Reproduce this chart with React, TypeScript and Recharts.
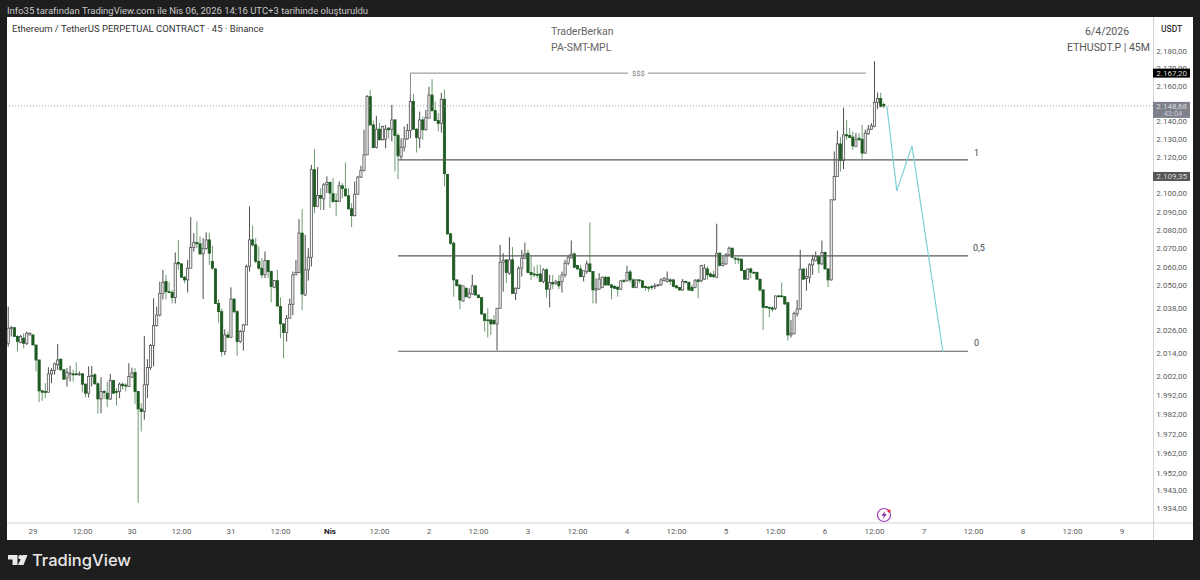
import { ComposedChart, Bar, Line, XAxis, YAxis, ReferenceLine } from 'recharts';

// ETHUSDT.P 45m candles, first one sits 8 slots before the "29" tick
const opens = [
  2019.2,2027.2,2027.5,2022.8,2019.6,2021.9,2019.2,2023.6,2023.6,2018.3,
  2010.4,1994.2,1993.9,1993.5,2003.1,2004.9,2007.9,2010.8,2005.2,2000.9,
  2003,2003.1,2003.1,2002.6,2003.1,1997.7,1993,2001.7,2002.6,1997.9,
  1990,1993.9,1993,1989.9,1999.6,1993.9,1993.9,1997.7,1997.2,1996.5,
  2001.4,2003.8,1993.9,1984.8,1983.5,1997.4,2006.4,2018,2028.6,2034.2,
  2045.8,2052.1,2046.7,2046.2,2043.5,2062.4,2061.6,2054.4,2053,2059.3,
  2070.5,2073.2,2072.5,2067,2070,2074.6,2062.9,2058.9,2040.4,2036,
  2014.8,2023.6,2022.4,2042.7,2036,2020.1,2025.4,2028.9,2060.2,2074.6,
  2071.9,2062.9,2059.3,2055.7,2063.4,2057.5,2049,2052.6,2038.7,2029.5,
  2024.9,2032.5,2039.9,2055.7,2057,2078.3,2044.9,2058.4,2065.2,2113.1,
  2092.9,2098.9,2097,2104.8,2106.1,2099.8,2096,2095.6,2104.2,2102.4,
  2098.7,2091.6,2087.8,2099.6,2109,2112.7,2121.3,2153.9,2138,2125.4,
  2135.6,2129.7,2130,2136.2,2135.6,2140.8,2132.1,2120.4,2125.6,2130.2,
  2134.9,2151.1,2135.6,2130.6,2140.8,2135.3,2141.8,2154.8,2146,2140.4,
  2138.9,2152.4,2110.5,2077.9,2072.8,2053,2050.3,2041.7,2048.5,2043.6,
  2045.4,2049.8,2044.9,2043.5,2034.8,2031.6,2031.6,2031.3,2029.5,2037.8,
  2062.5,2063.8,2056.6,2063.8,2045.8,2048.5,2059.3,2064.7,2067.4,2057,
  2056.2,2055.9,2056.2,2052.1,2058.4,2048,2051.6,2051.2,2052.1,2052.1,
  2055.7,2062,2064.7,2067,2060.7,2058.9,2054.8,2057.5,2061.6,2057.5,
  2047.6,2048,2048.9,2054.4,2054.4,2050.3,2049.4,2049,2048,2052.6,
  2052.5,2057.3,2053,2049,2053,2052.5,2049.4,2049,2049.4,2049.4,
  2050,2050.3,2052.6,2052.1,2053,2053,2049.8,2048.9,2047.6,2052.1,
  2051.6,2049,2049,2053,2052.5,2053.4,2058.9,2056.2,2055.7,2054.4,
  2067.4,2060.7,2061.6,2066.5,2070.1,2064.7,2064.2,2064.2,2058,2053.4,
  2058.9,2057.1,2057,2053.4,2047.6,2038.7,2038.3,2038,2037.8,2044.4,
  2044.4,2044,2040.8,2023.6,2024.2,2034.8,2037.4,2058.8,2053.7,2054.4,
  2061.1,2063.4,2065.6,2061.6,2067.8,2058.9,2053,2096.5,2109.4,2127.4,
  2118.2,2132.5,2132.1,2131.2,2126,2130.6,2130,2122.3,2133,2135.6,
  2137.1,2150.7,2152.9,2149.5,
];
const closes = [
  2027.2,2027.5,2022.8,2020.1,2022.8,2019.2,2024.5,2024.5,2018.3,2010.4,
  1994.2,1993.5,1993.4,2003.1,2004.9,2008.4,2010.4,2005.2,2000.3,2003.8,
  2003.5,2002.6,2002.6,2003.1,1997.7,1993,2001.7,2002.3,1997.9,1990,
  1993.9,1993.4,1990,1999.6,1993,1993.4,1997.7,1996.9,1996.7,2001.7,
  2003.5,1993.9,1984.8,1983.5,1997.4,2006.4,2018,2028.6,2034.2,2045.8,
  2051.7,2046.7,2046.2,2043.5,2062,2061.6,2054.4,2053,2059.3,2070.5,
  2073.2,2072.5,2067,2070,2074.6,2067.4,2059.3,2040.4,2036,2014.8,
  2023.6,2022.4,2042.7,2036,2020.1,2025.4,2028.9,2060.2,2074.6,2071.9,
  2062.9,2059.3,2055.7,2063.4,2057.5,2049.4,2052.6,2039,2029.5,2024.9,
  2032.5,2039.9,2055.7,2057,2078.3,2045.4,2058.4,2065.2,2113.1,2092.9,
  2098.9,2097.4,2104.8,2106.1,2100.2,2095.6,2095.6,2104.2,2102.8,2098.7,
  2091.6,2087.8,2099.6,2109,2112.7,2121.3,2153.9,2138,2125.4,2135.6,
  2129.7,2137.1,2135.6,2135.3,2140.8,2132.1,2120.8,2125.6,2130.2,2134.9,
  2151.1,2135.6,2131,2140.8,2135.3,2142.1,2154.8,2146,2140.4,2138.9,
  2152.4,2110.9,2077.9,2072.8,2053,2049.9,2042.2,2049.8,2044,2045.8,
  2049.8,2044.9,2043.5,2034.8,2031.3,2031.3,2029.5,2029.5,2037.8,2062.5,
  2063.4,2057,2063.8,2045.8,2048.5,2059.3,2064.7,2067,2057,2055.9,
  2055.7,2055.5,2052.1,2058.4,2048,2051.6,2050.8,2051.9,2049.8,2055.7,
  2062,2065.2,2066.9,2059.8,2058.9,2054.8,2057.9,2061.6,2057.5,2047.6,
  2048.5,2053.4,2054.4,2050.3,2050.3,2048.9,2048.5,2048,2052.5,2052.1,
  2057,2053,2049,2053,2052.6,2049,2048.9,2048.7,2049,2049.8,
  2050.3,2053,2053.9,2053.4,2052.3,2049.4,2048.7,2047.6,2052.1,2051.6,
  2047.6,2047.2,2052.5,2052.1,2060.7,2059.3,2055.7,2054.8,2054.8,2067.4,
  2060.7,2062,2066.5,2070.1,2065.2,2064.2,2063.8,2058,2053.4,2058.8,
  2057.1,2056.6,2053.4,2047.6,2038.3,2038.1,2037.8,2037.3,2044.4,2044,
  2044,2040.1,2023.6,2024.5,2035.1,2037.4,2058.8,2053.4,2054.8,2061.1,
  2063.8,2065.6,2061.6,2067.8,2058.9,2053,2096.5,2109.4,2127.4,2118.2,
  2132.5,2131.9,2131,2126.3,2129.7,2129.7,2122.3,2133.4,2135.6,2137.5,
  2150.7,2152.9,2148.3,2148.68,
];
const highs = [
  2038.7,2028.4,2027.5,2023.6,2023.6,2024.5,2025.4,2025,2024.1,2018.3,
  2010.4,1994.8,1998.2,2006.6,2006.1,2009,2018.9,2011.3,2005.6,2006.1,
  2007.3,2005.2,2009.2,2004.4,2003.5,1998.2,2007,2007.3,2003.5,1998.6,
  2001.4,1994.8,1999.1,2003.1,2000,1995.6,1998.6,1998.6,1998.2,2008.7,
  2006.4,2006.1,1993.9,1987.7,2023.1,2010.8,2018.9,2043.1,2038.7,2052.1,
  2058.4,2055.7,2051.7,2047.6,2067.8,2074.7,2062,2055.2,2063.8,2087,
  2078.3,2084.7,2076.5,2075.6,2078.7,2078.3,2071.4,2059.3,2042.6,2037.8,
  2026.6,2025.4,2049,2043.1,2036.9,2026.3,2029.5,2061.1,2092.9,2082.5,
  2075.6,2071,2064.7,2068.3,2063.8,2057.9,2053,2058.4,2043.6,2029.5,
  2034.2,2043,2057.5,2063.8,2085.9,2091.4,2077.4,2070.1,2115.8,2124.5,
  2114.5,2102.9,2105.7,2109.4,2106.6,2108.5,2100.2,2106.6,2105.7,2117.1,
  2102.9,2094.7,2106.6,2109.7,2115.3,2135.3,2154.8,2157.6,2140.5,2143.1,
  2139.3,2137.5,2138,2136.7,2149.2,2141.2,2133.4,2130.6,2137.1,2138.6,
  2155.4,2155.4,2136.2,2145.5,2142.7,2146.4,2159.5,2163.8,2151.1,2144.6,
  2156.1,2158,2110.5,2078.3,2073.7,2053,2050.3,2049.8,2049,2048.5,
  2055.7,2050.3,2044.9,2043.5,2034.8,2037.8,2032,2034.2,2037.8,2071.9,
  2067.4,2064.2,2076.1,2070.7,2049,2060.2,2069.2,2073.2,2069.2,2065.6,
  2060.2,2061.1,2061.1,2059.3,2059.3,2055.7,2055.7,2053,2055.7,2057.5,
  2063.8,2066.5,2074.3,2067.8,2061.1,2061.1,2058,2063.4,2084.1,2057.5,
  2053.9,2056.6,2054.8,2055.2,2054.8,2050.8,2050.3,2049.8,2053,2053.4,
  2060.6,2058.4,2053.9,2053.4,2053.4,2053,2049.8,2049.8,2050.3,2051.2,
  2050.8,2053.9,2054.4,2057.5,2053.9,2053.4,2050.3,2049,2053.5,2052.5,
  2052.1,2050.3,2053.5,2053.4,2061.1,2061.5,2060.2,2057,2058,2083.4,
  2067.8,2065.6,2067.4,2071,2070.5,2065.2,2065.2,2064.2,2058.4,2059.3,
  2059.7,2057.5,2057.5,2053.5,2048,2039,2038.7,2038.7,2044.5,2044.9,
  2051.6,2044.4,2040.8,2031.6,2036,2042.2,2069.2,2059.3,2059.3,2062,
  2066.5,2068.3,2066,2074.3,2068.3,2059.3,2096.5,2123.2,2134.9,2131.2,
  2147.7,2140.8,2136.2,2134.3,2133.4,2133.4,2138,2135.3,2138,2139,
  2174,2156.3,2156.1,2150.5,
];
const lows = [
  2017.5,2022.8,2022.8,2014.8,2019.2,2016.6,2018.3,2023.6,2018.3,2004.4,
  1988.3,1989,1990.4,1993.4,1998.2,2002.6,2005.2,2004.9,2000,1996.5,
  1999.1,1999.1,2002.6,2002.1,1993.4,1990.9,1990.7,1996.5,1997.4,1982.3,
  1982.6,1990,1985.7,1989.5,1992.5,1986.6,1990.4,1994.8,1993.9,1996.5,
  2000.9,1987.4,1936.6,1973.1,1979.2,1990.4,2005.2,2007,2028,2033.4,
  2042.6,2042.6,2045.8,2040.4,2040.4,2058.4,2054.3,2051.2,2046.3,2059.3,
  2068.3,2070.1,2066.5,2042.7,2069.2,2061.1,2058.4,2040.4,2030.2,2012.2,
  2013,2021.9,2021.9,2035.1,2012.7,2019.3,2015.4,2028.9,2057.5,2071,
  2062,2058.4,2053.9,2053.9,2053.9,2041,2048.5,2038.7,2021.9,2011.3,
  2020.1,2032.5,2034.2,2055.7,2056.6,2036.9,2044.3,2052.6,2060.2,2089.2,
  2092.5,2090.9,2090.9,2100.2,2091.9,2094.7,2087.4,2095.6,2097.4,2098.3,
  2091,2081.6,2087.4,2099.3,2108.5,2112.1,2121.3,2137.7,2125,2124.8,
  2129.3,2129.3,2125,2130.6,2128.8,2112.1,2107.9,2118.6,2123.2,2129.7,
  2130.6,2135.3,2122.6,2125,2129.7,2134.9,2141.8,2145.5,2140.3,2134.4,
  2133.8,2103.9,2077.4,2071.9,2044,2049.4,2037.3,2041.3,2043.6,2043.1,
  2044.9,2044.5,2043.1,2034.2,2025.4,2022.2,2023.6,2029,2015.4,2037.8,
  2046.7,2051.2,2055.7,2045.8,2042.2,2048,2054.8,2064.2,2056.6,2053,
  2054.4,2053.9,2052.1,2051.2,2043.6,2038.3,2048,2050.3,2048,2046.2,
  2054.4,2061.1,2064.7,2059.3,2058.4,2054.4,2052.1,2056.2,2057,2040.4,
  2040.4,2047.6,2048.5,2049.8,2049.8,2042.6,2048,2044,2047.6,2051.6,
  2052.1,2051.6,2048.5,2048.5,2051.2,2048.5,2047.2,2046.7,2047.6,2048,
  2049.4,2049.8,2052.1,2051.6,2050.3,2049,2048.5,2047.2,2047.2,2051.2,
  2047.2,2047.1,2048.5,2043.1,2051.7,2053,2053,2054.4,2053.9,2053.9,
  2060.2,2060.2,2061.1,2066,2064.7,2061.6,2061.6,2057.9,2053,2053,
  2053.9,2056.2,2053,2046.7,2026.3,2037.8,2033,2036,2036.9,2043.6,
  2043.6,2039.5,2020.6,2022.2,2024,2033.4,2036.9,2053,2047.2,2051.2,
  2055.7,2062.9,2056.6,2061.1,2058.4,2049.2,2052.6,2096.1,2109.4,2112.1,
  2113.4,2129.7,2130.6,2124.1,2126,2129.3,2119,2121.9,2132.5,2135.3,
  2136.7,2146.8,2147.9,2147.3,
];

const priceTicks = [2180,2170,2160,2150,2140,2130,2120,2110,2100,2090,2080,2070,2060,2050,2038,2026,2014,2002,1992,1982,1972,1962,1952,1943,1934];
const timeTicks = [0,16,32,48,64,80,96,112,128,144,160,176,192,208,224,240,256,272,288,304,320,336,352];
const timeLabels = ['29','12:00','30','12:00','31','12:00','Nis','12:00','2','12:00','3','12:00','4','12:00','5','12:00','6','12:00','7','12:00','8','12:00','9'];

const LAST_PRICE = 2148.68;
const HIGH_TAG = 2167.2;
const LOW_TAG = 2109.35;
const LEVEL_ONE = 2118.5;
const LEVEL_HALF = 2066;
const LEVEL_ZERO = 2015;

// hand drawn path on the right
const pathSlots = [276, 279.2, 284.1, 294.1];
const pathPrices = [2148.4, 2101.4, 2126.3, 2014.6];

const rows = opens.map((o, idx) => ({ i: idx - 8, o, c: closes[idx], h: highs[idx], l: lows[idx], range: [lows[idx], highs[idx]] }));
const pathRows = pathSlots.map((i, idx) => ({ i, path: pathPrices[idx] }));

const money = (v: number) => {
  const [a, b] = v.toFixed(2).split('.');
  return a.slice(0, 1) + '.' + a.slice(1) + ',' + b;
};

function Candle(props: any) {
  const { x, y, width, height, payload } = props;
  const { o, c, h, l } = payload;
  const cx = x + width / 2;
  const span = Math.log(h / l) || 1;
  const py = (v: number) => y + (height * Math.log(h / v)) / span;
  const up = c >= o;
  const top = py(Math.max(o, c));
  const bot = py(Math.min(o, c));
  return (
    <g>
      <line x1={cx} x2={cx} y1={y} y2={y + height} stroke={up ? '#4d4d4d' : '#6f9c74'} strokeWidth={1} />
      <rect x={cx - 1.1} y={top} width={2.2} height={Math.max(bot - top, 0.8)} fill={up ? '#f4f4f4' : '#1d5a21'} stroke={up ? '#555' : '#1d5a21'} strokeWidth={0.8} />
    </g>
  );
}

function PriceTick(props: any) {
  const { y, payload } = props;
  const v = payload.value;
  const right = 1187;
  let box = null;
  let extra = null;
  let col = '#5c5c5c';
  if (v === HIGH_TAG) {
    box = <rect x={1153} y={y - 4.5} width={37} height={9} fill="#000" />;
    col = '#d8d8d8';
  }
  if (v === LOW_TAG) {
    box = <rect x={1153} y={y - 4.5} width={37} height={9} fill="#555" />;
    col = '#d8d8d8';
  }
  if (v === LAST_PRICE) {
    box = <rect x={1153} y={y - 4} width={37} height={16} fill="#7e808c" />;
    col = '#dcdcdc';
    extra = <text x={1173} y={y + 10} textAnchor="middle" fontSize={7.5} fontFamily="Roboto" fill="#c9cad0">43:04</text>;
  }
  return (
    <g>
      {box}
      <text x={right} y={y + 3} textAnchor="end" fontSize={8} fontFamily="Roboto" fill={col}>{money(v)}</text>
      {extra}
    </g>
  );
}

function TimeTick(props: any) {
  const { x, y, payload } = props;
  const label = timeLabels[timeTicks.indexOf(payload.value)];
  return <text x={x} y={y + 3} textAnchor="middle" fontSize={8} fontFamily="Roboto" fontWeight={label === 'Nis' ? 700 : 400} fill={label === 'Nis' ? '#222' : '#5c5c5c'}>{label}</text>;
}

const txt = (s: string, left: number, top: number, size: number, color: string, extra: any = {}) => (
  <div style={{ position: 'absolute', left, top, fontSize: size, color, lineHeight: 1, whiteSpace: 'nowrap', fontFamily: 'Roboto', ...extra }}>{s}</div>
);

export default function App() {
  return (
    <div style={{ position: 'fixed', left: 0, top: 0, width: 1200, height: 580, background: '#1e1e1e', overflow: 'hidden' }}>
      <div style={{ position: 'absolute', left: 7, top: 17, width: 1186, height: 523, background: '#fff' }} />
      <div style={{ position: 'absolute', left: 7, top: 522, width: 1186, height: 2, background: '#e9e9e9' }} />
      <div style={{ position: 'absolute', left: 1153, top: 17, width: 1, height: 523, background: '#d4d4d4' }} />
      <div style={{ position: 'absolute', left: 0, top: 0 }}>
        <ComposedChart width={1200} height={580} data={rows} margin={{ top: 18, right: 0, bottom: 40, left: 7 }}>
          <XAxis dataKey="i" type="number" domain={[-8.4, 362]} allowDataOverflow ticks={timeTicks} interval={0} axisLine={false} tickLine={false} height={17} tick={<TimeTick />} />
          <YAxis orientation="right" scale="log" domain={[1926.4, 2198.7]} allowDataOverflow width={47} ticks={[...priceTicks, LOW_TAG, LAST_PRICE, HIGH_TAG]} interval={0} axisLine={false} tickLine={false} tick={<PriceTick />} />
          <ReferenceLine y={LAST_PRICE} stroke="#a8a8a8" strokeDasharray="1 2" />
          <Bar dataKey="range" barSize={3} shape={<Candle />} isAnimationActive={false} />
          <ReferenceLine segment={[{ x: 122, y: HIGH_TAG }, { x: 192.3, y: HIGH_TAG }]} stroke="#8a8a8a" />
          <ReferenceLine segment={[{ x: 198.8, y: HIGH_TAG }, { x: 269.2, y: HIGH_TAG }]} stroke="#8a8a8a" />
          <ReferenceLine segment={[{ x: 122, y: HIGH_TAG }, { x: 122, y: 2152 }]} stroke="#8a8a8a" />
          <ReferenceLine segment={[{ x: 118, y: LEVEL_ONE }, { x: 302.2, y: LEVEL_ONE }]} stroke="#5a5a5a" strokeWidth={1.2} />
          <ReferenceLine segment={[{ x: 118, y: LEVEL_HALF }, { x: 302.2, y: LEVEL_HALF }]} stroke="#5a5a5a" strokeWidth={1.2} />
          <ReferenceLine segment={[{ x: 118, y: LEVEL_ZERO }, { x: 302.2, y: LEVEL_ZERO }]} stroke="#5a5a5a" strokeWidth={1.2} />
          <Line data={pathRows} dataKey="path" stroke="#7dd0d6" strokeWidth={1.2} dot={false} isAnimationActive={false} type="linear" />
        </ComposedChart>
      </div>

      {txt('Info35 tarafından TradingView.com ile Nis 06, 2026 14:16 UTC+3 tarihinde oluşturuldu', 7, 6, 9.5, '#c8c8c8')}
      {txt('Ethereum / TetherUS PERPETUAL CONTRACT · 45 · Binance', 12, 24, 9.5, '#333')}
      {txt('TraderBerkan', 551, 27, 10.5, '#666')}
      {txt('PA-SMT-MPL', 551, 43, 10.5, '#666')}
      {txt('6/4/2026', 1085, 27, 10.5, '#555')}
      {txt('ETHUSDT.P | 45M', 1067, 43, 10.5, '#555')}
      {txt('USDT', 1161, 25, 8.5, '#333', { fontWeight: 500 })}
      {txt('$$$', 632, 70, 7.5, '#777')}
      {txt('1', 974, 149, 9, '#444')}
      {txt('0,5', 973, 244, 9, '#444')}
      {txt('0', 974, 339, 9, '#444')}

      <svg style={{ position: 'absolute', left: 0, top: 0 }} width={1200} height={580}>
        <circle cx={884} cy={515} r={6.5} fill="#fff" stroke="#9c3fb5" strokeWidth={1.2} />
        <path d="M885.5 510.5 L881.5 515.8 L884 515.8 L882.5 519.5 L886.8 514 L884.3 514 Z" fill="#7b2fa0" />
        <circle cx={889} cy={511} r={1.6} fill="#e5213a" />
        <path d="M8 555 H17.5 V565 H12.5 V559.5 H8 Z" fill="#e8e8e8" />
        <circle cx={20.5} cy={557.2} r={2.1} fill="#e8e8e8" />
        <path d="M22.5 555 H27.5 L23.5 565 H18 Z" fill="#e8e8e8" />
      </svg>
      {txt('TradingView', 32, 552, 16.5, '#e8e8e8', { fontFamily: 'Inter', fontWeight: 500 })}
    </div>
  );
}
